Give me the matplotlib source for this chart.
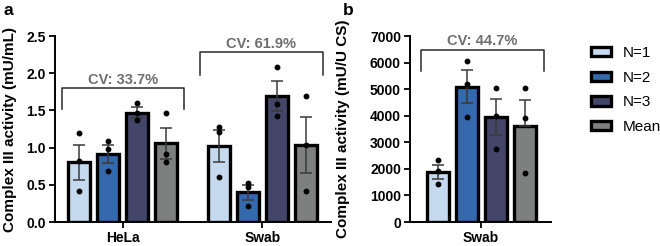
import matplotlib
matplotlib.use("Agg")
import matplotlib.pyplot as plt
from matplotlib.patches import Patch
import numpy as np

plt.rcParams['font.family'] = ['Liberation Sans', 'DejaVu Sans']

series = ['N=1', 'N=2', 'N=3', 'Mean']
colors = ['#C6DAEF', '#3569AD', '#444669', '#7E7F7F']

# Panel a
groups_a = ['HeLa', 'Swab']
a_means = [[0.80, 0.91, 1.47, 1.06],
           [1.02, 0.40, 1.69, 1.04]]
a_err = [[0.23, 0.12, 0.07, 0.21],
         [0.22, 0.10, 0.20, 0.375]]
a_dots = [[[1.19, 0.82, 0.41], [1.09, 0.98, 0.69], [1.60, 1.46, 1.37], [1.47, 0.92, 0.81]],
          [[1.28, 1.21, 0.61], [0.53, 0.47, 0.22], [2.08, 1.58, 1.43], [1.69, 1.04, 0.41]]]
a_cv = ['CV: 33.7%', 'CV: 61.9%']

# Panel b
groups_b = ['Swab']
b_means = [[1870, 5090, 3940, 3620]]
b_err_low = [[250, 610, 660, 0]]
b_err_high = [[280, 620, 690, 965]]
b_dots = [[[2320, 1920, 1420], [6060, 5210, 3960], [5060, 3980, 2760], [5060, 3920, 1860]]]
b_cv = ['CV: 44.7%']

W, H = 660, 246
fig = plt.figure(figsize=(W / 100, H / 100), dpi=100)

def fx(px):
    return px / W

def fy(py):
    return 1 - py / H

PX = 139.6  # pixels per group unit
spacing = 29 / PX
bar_w = 22 / PX
edge_lw = 2.4
err_color = '#3a3a3a'

def style_axes(ax, ylabel, yticks, ylim, groups):
    for s in ['top', 'right']:
        ax.spines[s].set_visible(False)
    for s in ['left', 'bottom']:
        ax.spines[s].set_linewidth(1.4)
    ax.set_ylim(*ylim)
    ax.set_yticks(yticks)
    ax.set_xticks(range(len(groups)))
    ax.set_xticklabels(groups, fontsize=10, fontweight='bold')
    ax.tick_params(axis='both', width=1.3, length=4, labelsize=10, pad=2.5)
    for lab in ax.get_yticklabels():
        lab.set_fontweight('bold')
    ax.set_ylabel(ylabel, fontsize=11, fontweight='bold')

def draw_bars(ax, means, err_lo, err_hi, dots):
    for g in range(len(means)):
        for i in range(4):
            x = g + (i - 1.5) * spacing
            ax.bar(x, means[g][i], width=bar_w, color=colors[i], edgecolor='black',
                   linewidth=edge_lw, zorder=2)
            ax.errorbar(x, means[g][i], yerr=[[err_lo[g][i]], [err_hi[g][i]]], fmt='none',
                        ecolor=err_color, elinewidth=1.1, capsize=4.5, capthick=1.1, zorder=3)
            ax.plot([x] * len(dots[g][i]), dots[g][i], 'o', color='black', markersize=3.2,
                    zorder=4, clip_on=False)

def bracket(ax, x0, x1, ytop, ybot, text, ytext):
    ax.plot([x0, x0, x1, x1], [ybot, ytop, ytop, ybot], color='#2a2a2a', lw=1.1,
            clip_on=False, zorder=5)
    ax.text((x0 + x1) / 2, ytext, text, ha='center', va='baseline', fontsize=10.5,
            fontweight='bold', color='#6e6e6e')

# ---- panel a
axa = fig.add_axes([fx(55), fy(222), fx(331) - fx(55), fy(36) - fy(222)])
draw_bars(axa, a_means, a_err, a_err, a_dots)
style_axes(axa, 'Complex III activity (mU/mL)', [0.0, 0.5, 1.0, 1.5, 2.0, 2.5], (0, 2.5), groups_a)
axa.set_yticklabels(['0.0', '0.5', '1.0', '1.5', '2.0', '2.5'], fontweight='bold')
axa.set_xlim((55 - 122.7) / PX, (331 - 122.7) / PX)
bracket(axa, (62 - 122.7) / PX, (184 - 122.7) / PX, 1.80, 1.52, a_cv[0], 1.86)
bracket(axa, (200 - 122.7) / PX, (323 - 122.7) / PX, 2.285, 1.976, a_cv[1], 2.34)

# ---- panel b
axb = fig.add_axes([fx(410), fy(222), fx(551) - fx(410), fy(36) - fy(222)])
draw_bars(axb, b_means, b_err_low, b_err_high, b_dots)
style_axes(axb, 'Complex III activity (mU/U CS)', [0, 1000, 2000, 3000, 4000, 5000, 6000, 7000],
           (0, 7000), groups_b)
axb.set_xlim((410 - 481) / PX, (551 - 481) / PX)
bracket(axb, (421 - 481) / PX, (544 - 481) / PX, 6473, 5683, b_cv[0], 6650)

axa.yaxis.set_label_coords(fx(17 - 55) / (fx(331) - fx(55)), 0.5)
axb.yaxis.set_label_coords(fx(350 - 410) / (fx(551) - fx(410)), 0.5)

handles = [Patch(facecolor=c, edgecolor='black', linewidth=edge_lw) for c in colors]
fig.legend(handles, series, loc='upper left', bbox_to_anchor=(fx(585), fy(40)),
           frameon=False, fontsize=11, handlelength=1.3, handleheight=0.55,
           labelspacing=0.7, handletextpad=0.8, borderaxespad=0)

fig.text(fx(4), fy(15), 'a', fontsize=12.5, fontweight='bold')
fig.text(fx(343), fy(15), 'b', fontsize=12.5, fontweight='bold')

fig.savefig('out.png', dpi=100)
